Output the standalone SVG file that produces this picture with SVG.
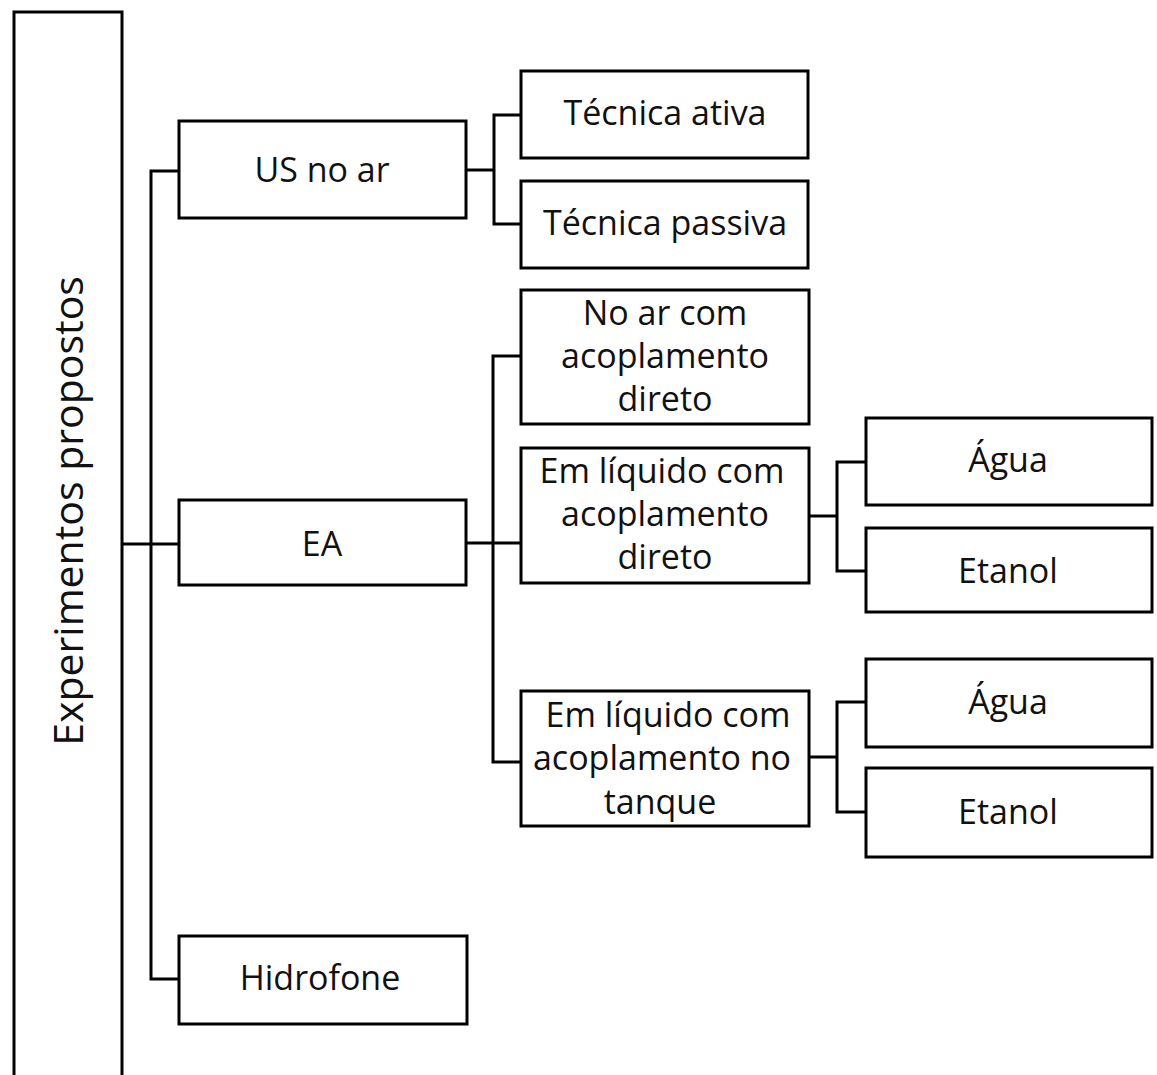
<svg xmlns="http://www.w3.org/2000/svg" width="1157" height="1075" viewBox="0 0 1157 1075">
<style>
.b{fill:#fff;stroke:#000;stroke-width:3}
.c{fill:none;stroke:#000;stroke-width:3}
text{font-family:"Open Sans","Noto Sans",sans-serif;font-size:34px;fill:#111;text-anchor:middle}
</style>
<rect width="1157" height="1075" fill="#fff"/>
<g id="connectors">
<path class="c" d="M122,544 H179"/>
<path class="c" d="M179,171 H151 V979 H179"/>
<path class="c" d="M466,170 H494"/>
<path class="c" d="M521,115 H494 V224 H521"/>
<path class="c" d="M466,543 H521"/>
<path class="c" d="M521,356 H493 V762 H521"/>
<path class="c" d="M809,516 H837"/>
<path class="c" d="M866,462 H837 V571 H866"/>
<path class="c" d="M809,757 H837"/>
<path class="c" d="M866,702 H837 V812 H866"/>
</g>
<g id="root">
<path class="b" d="M14,1090 V12 H122 V1090"/>
<text transform="translate(83,511) rotate(-90)" font-size="41" style="font-size:41px">Experimentos propostos</text>
</g>
<g id="us"><rect class="b" x="179" y="121" width="287" height="97"/><text x="322" y="182">US no ar</text></g>
<g id="ativa"><rect class="b" x="521" y="71" width="287" height="87"/><text x="665" y="125">Técnica ativa</text></g>
<g id="passiva"><rect class="b" x="521" y="181" width="287" height="87"/><text x="665" y="235">Técnica passiva</text></g>
<g id="ea"><rect class="b" x="179" y="500" width="287" height="85"/><text x="322" y="556">EA</text></g>
<g id="noar"><rect class="b" x="521" y="290" width="288" height="134"/><text x="665" y="325">No ar com</text><text x="665" y="368">acoplamento</text><text x="665" y="411">direto</text></g>
<g id="liqdireto"><rect class="b" x="521" y="448" width="288" height="135"/><text x="662" y="483">Em líquido com</text><text x="665" y="526">acoplamento</text><text x="665" y="569">direto</text></g>
<g id="liqtanque"><rect class="b" x="521" y="691" width="288" height="135"/><text x="668" y="727">Em líquido com</text><text x="662" y="770">acoplamento no</text><text x="660" y="814">tanque</text></g>
<g id="agua1"><rect class="b" x="866" y="418" width="286" height="87"/><text x="1008" y="472">Água</text></g>
<g id="etanol1"><rect class="b" x="866" y="528" width="286" height="84"/><text x="1008" y="583">Etanol</text></g>
<g id="agua2"><rect class="b" x="866" y="659" width="286" height="88"/><text x="1008" y="714">Água</text></g>
<g id="etanol2"><rect class="b" x="866" y="768" width="286" height="89"/><text x="1008" y="824">Etanol</text></g>
<g id="hidrofone"><rect class="b" x="179" y="936" width="288" height="88"/><text x="320" y="990">Hidrofone</text></g>
</svg>
